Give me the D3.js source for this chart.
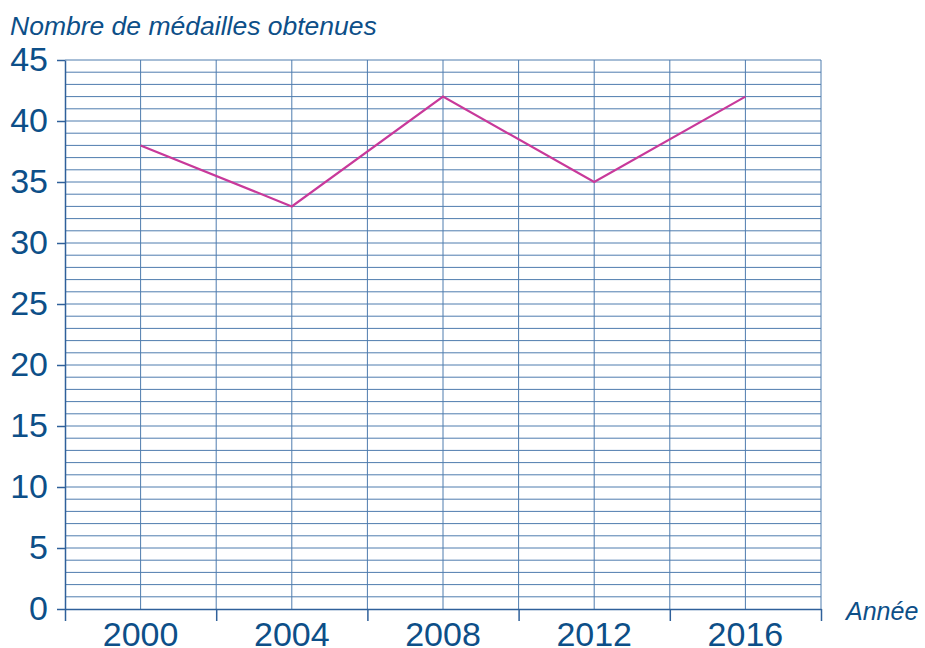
<!DOCTYPE html>
<html><head><meta charset="utf-8">
<script src="https://cdn.jsdelivr.net/npm/d3@7"></script>
<style>
html,body{margin:0;padding:0;background:#fff;}
svg{display:block;font-family:"Liberation Sans",Arial,sans-serif;}
</style></head>
<body>
<svg id="chart" width="925" height="648"></svg>
<script>
const years = [2000, 2004, 2008, 2012, 2016];
const medals = [38, 33, 42, 35, 42];
const yTicks = [0, 5, 10, 15, 20, 25, 30, 35, 40, 45];
const yLabel = "Nombre de médailles obtenues";
const xLabel = "Année";

const svg = d3.select("#chart");
const textColor = "#0d4f88";
const gridColor = "#4f7cae";
const axisColor = "#2f609a";

const x = d3.scaleLinear().domain([1998, 2018]).range([65, 821]);
const y = d3.scaleLinear().domain([0, 45]).range([609, 60]);

const g = svg.append("g");

// horizontal grid every unit
g.selectAll("line.h").data(d3.range(1, 46)).join("line")
  .attr("x1", x(1998)).attr("x2", x(2018))
  .attr("y1", d => y(d)).attr("y2", d => y(d))
  .attr("stroke", gridColor).attr("stroke-width", 1);

// vertical grid every 2 years
g.selectAll("line.v").data(d3.range(2000, 2019, 2)).join("line")
  .attr("x1", d => x(d)).attr("x2", d => x(d))
  .attr("y1", y(45)).attr("y2", y(0))
  .attr("stroke", gridColor).attr("stroke-width", 1);

// x axis: ticks at category boundaries
const xAxis = d3.axisBottom(x).tickValues(d3.range(1998, 2019, 4)).tickSize(12).tickFormat("").tickSizeOuter(0);
const xg = svg.append("g").attr("transform", `translate(0,${y(0)})`).call(xAxis);
xg.select(".domain").attr("stroke", axisColor).attr("stroke-width", 1.5);
xg.selectAll(".tick line").attr("stroke", axisColor).attr("stroke-width", 1.5);

// x labels
svg.append("g").selectAll("text").data(years).join("text")
  .attr("x", d => x(d)).attr("y", 646)
  .attr("text-anchor", "middle")
  .attr("fill", textColor).attr("font-size", 34)
  .text(d => d);

// y axis
const yAxis = d3.axisLeft(y).tickValues(yTicks).tickSize(8).tickSizeOuter(0).tickPadding(9);
const yg = svg.append("g").attr("transform", `translate(${x(1998)},0)`).call(yAxis);
yg.select(".domain").attr("stroke", axisColor).attr("stroke-width", 1.5);
yg.selectAll(".tick line").attr("stroke", axisColor).attr("stroke-width", 1.5);
yg.selectAll(".tick text").attr("fill", textColor).attr("font-size", 34)
  .attr("font-family", "'Liberation Sans',Arial,sans-serif");

// line
const line = d3.line().x((d, i) => x(years[i])).y(d => y(d));
svg.append("path").datum(medals)
  .attr("d", line).attr("fill", "none")
  .attr("stroke", "#c8399a").attr("stroke-width", 2.2)
  .attr("stroke-linejoin", "miter");

// labels
svg.append("text").attr("x", 10).attr("y", 35)
  .attr("fill", textColor).attr("font-size", 26.5).attr("font-style", "italic")
  .text(yLabel);
svg.append("text").attr("x", 846).attr("y", 620)
  .attr("fill", textColor).attr("font-size", 25).attr("font-style", "italic")
  .text(xLabel);
</script>
</body></html>
